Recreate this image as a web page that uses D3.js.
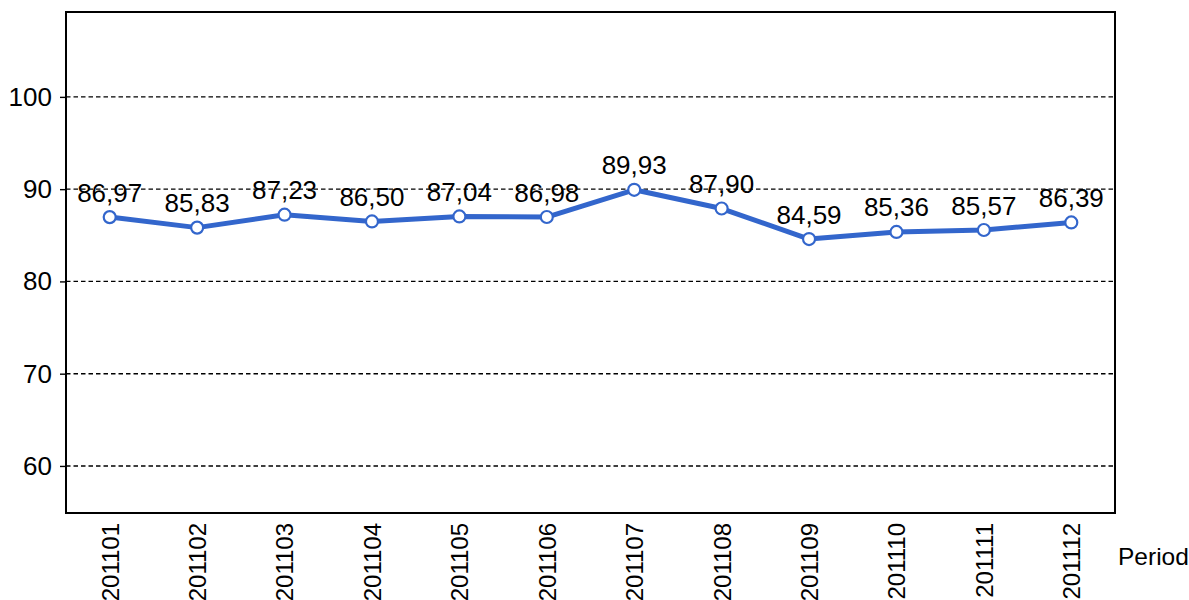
<!DOCTYPE html>
<html><head><meta charset="utf-8">
<script src="https://cdn.jsdelivr.net/npm/d3@7"></script>
<style>body{margin:0;background:#fff}svg{display:block}text{font-family:"Liberation Sans",Arial,sans-serif}</style>
</head><body>
<svg id="c" width="1189" height="600"></svg>
<script>
const periods = ["201101","201102","201103","201104","201105","201106","201107","201108","201109","201110","201111","201112"];
const values = [86.97,85.83,87.23,86.50,87.04,86.98,89.93,87.90,84.59,85.36,85.57,86.39];
const yTicks = [60,70,80,90,100];
const xTitle = "Period";

const svg = d3.select("#c");
const L = 66, R = 1115, T = 12, B = 513;
const x = d3.scalePoint().domain(periods).range([L, R]).padding(0.5);
const y = d3.scaleLinear().domain([54.9, 109.2]).range([B, T]);
const fmt = v => d3.format(".2f")(v).replace(".", ",");
const FF = '"Liberation Sans",Arial,sans-serif';

// grid
svg.append("g").selectAll("line").data(yTicks).join("line")
  .attr("x1", L).attr("x2", R).attr("y1", d => y(d)).attr("y2", d => y(d))
  .attr("stroke", "#000").attr("stroke-width", 1.4).attr("stroke-dasharray", "4.5,3");

// y axis
const ya = svg.append("g").attr("transform", `translate(${L},0)`)
  .call(d3.axisLeft(y).tickValues(yTicks).tickSize(6).tickPadding(8));
ya.select(".domain").remove();
ya.selectAll("line").attr("stroke", "#000").attr("stroke-width", 1.4);
ya.selectAll("text").attr("font-size", 26).attr("fill", "#000").style("font-family", FF);

// x axis labels
const xa = svg.append("g").attr("transform", `translate(0,${B})`)
  .call(d3.axisBottom(x).tickSize(0).tickPadding(0));
xa.select(".domain").remove();
xa.selectAll("text").attr("font-size", 24).attr("fill", "#000").style("font-family", FF)
  .attr("text-anchor", "end").attr("dy", "0.35em")
  .attr("transform", "translate(0,10) rotate(-90)").attr("x", 0).attr("y", 0);

// frame
svg.append("rect").attr("x", L).attr("y", T).attr("width", R - L).attr("height", B - T)
  .attr("fill", "none").attr("stroke", "#000").attr("stroke-width", 2);

// line
const pts = periods.map((p, i) => [x(p), y(values[i])]);
svg.append("path").attr("d", d3.line()(pts)).attr("fill", "none")
  .attr("stroke", "#3366CC").attr("stroke-width", 5).attr("stroke-linejoin", "round");
svg.append("g").selectAll("circle").data(pts).join("circle")
  .attr("cx", d => d[0]).attr("cy", d => d[1]).attr("r", 6)
  .attr("fill", "#fff").attr("stroke", "#3366CC").attr("stroke-width", 2.2);

// labels
svg.append("g").selectAll("text").data(values).join("text")
  .attr("x", (d, i) => x(periods[i])).attr("y", d => y(d) - 15.5)
  .attr("text-anchor", "middle").attr("font-size", 26).attr("fill", "#000")
  .text(fmt);

svg.append("text").attr("x", 1118).attr("y", 565).attr("font-size", 24.5).attr("fill", "#000").text(xTitle);
</script>
</body></html>
